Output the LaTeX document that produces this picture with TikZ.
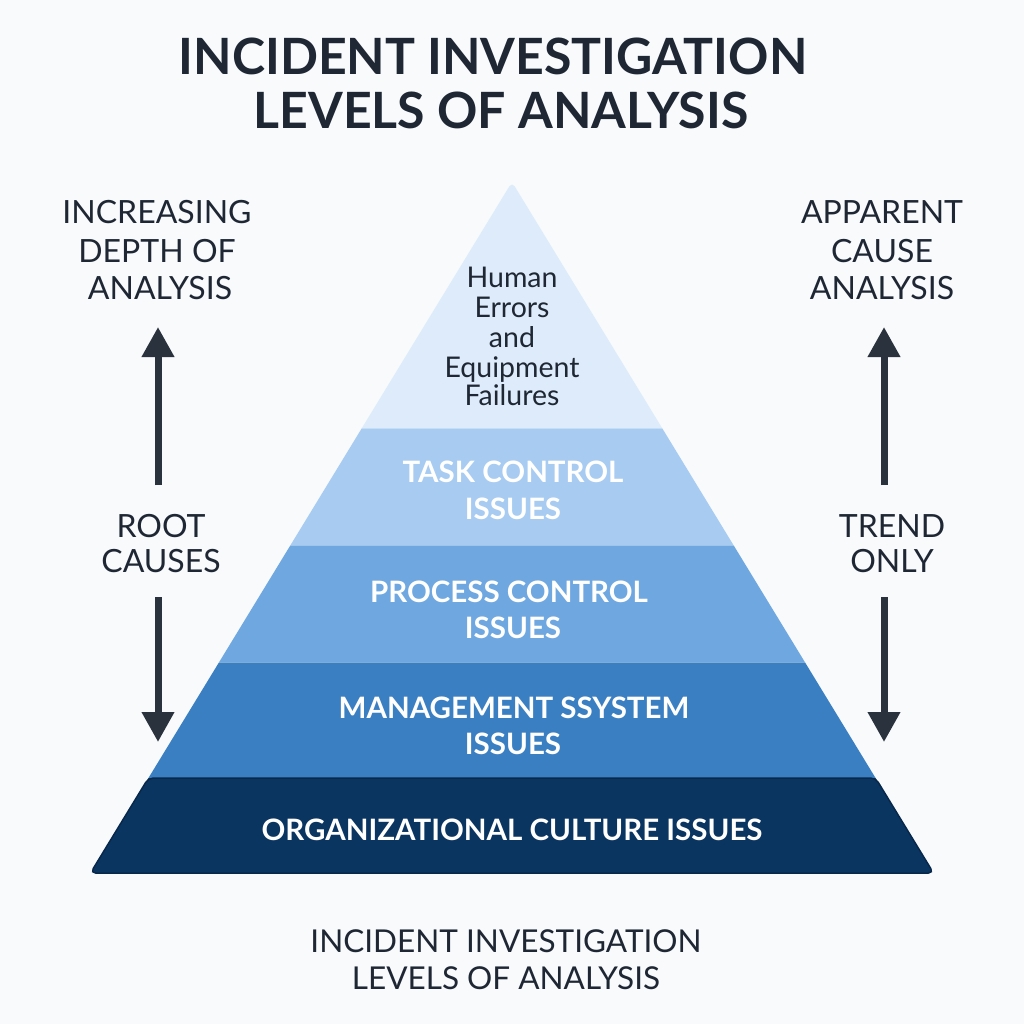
\documentclass[tikz,border=0pt]{standalone}
\usepackage{fontspec}
\setmainfont{Lato}
\usetikzlibrary{arrows.meta}
\definecolor{bgc}{HTML}{F8FAFC}
\definecolor{ink}{HTML}{1E2733}
\definecolor{bandA}{HTML}{DDEBFA}
\definecolor{bandB}{HTML}{A7CBF1}
\definecolor{bandC}{HTML}{6FA7E0}
\definecolor{bandD}{HTML}{3B7FC3}
\definecolor{bandE}{HTML}{0B3561}
\definecolor{bandEdge}{HTML}{08284B}
\definecolor{arrc}{HTML}{2A323D}
\tikzset{
  titletxt/.style={anchor=base, text=ink, font=\fontsize{50}{53}\selectfont\bfseries, inner sep=0},
  sidetxt/.style={anchor=base, text=ink, font=\fontsize{32}{36}\selectfont, inner sep=0},
  toptxt/.style={anchor=base, text=ink, font=\fontsize{28.5}{30}\selectfont, inner sep=0},
  bandtxt/.style={anchor=base, text=white, font=\fontsize{29.5}{33}\selectfont\bfseries, inner sep=0},
  bottxt/.style={anchor=base, text=ink, font=\fontsize{31.5}{35}\selectfont, inner sep=0},
  bigarrow/.style={draw=arrc, line width=7pt, -{Triangle[width=31pt,length=30pt]}}
}
\begin{document}
\begin{tikzpicture}[x=1pt,y=-1pt]
\useasboundingbox (0,0) rectangle (1024,1024);
\fill[bgc] (0,0) rectangle (1024,1024);

% title
\node[titletxt] (t1) at (493,75) {INCIDENT INVESTIGATION};
\node[titletxt] (t2) at (501,129) {LEVELS OF ANALYSIS};

% pyramid
\begin{scope}
\clip[rounded corners=5pt] (512,182) -- (933.5,873) -- (90.5,873) -- cycle;
\fill[bandA] (0,150) rectangle (1024,428);
\fill[bandB] (0,428) rectangle (1024,545);
\fill[bandC] (0,545) rectangle (1024,662);
\fill[bandD] (0,662) rectangle (1024,778);
\fill[bandE] (0,778) rectangle (1024,880);
\draw[white, opacity=0.35, line width=1pt] (0,428) -- (1024,428) (0,545) -- (1024,545) (0,662) -- (1024,662);
\end{scope}
\draw[bandEdge, line width=1.5pt, rounded corners=5pt] (148.4,778) -- (875.6,778) -- (933.5,873) -- (90.5,873) -- cycle;

% top band text
\node[toptxt] (h1) at (512,287) {Human};
\node[toptxt] (h2) at (512,317) {Errors};
\node[toptxt] (h3) at (512,347) {and};
\node[toptxt] (h4) at (512,377) {Equipment};
\node[toptxt] (h5) at (512,405) {Failures};

\node[bandtxt] (b1a) at (513,482) {TASK CONTROL};
\node[bandtxt] (b1b) at (513,519) {ISSUES};
\node[bandtxt] (b2a) at (509,602) {PROCESS CONTROL};
\node[bandtxt] (b2b) at (513,638) {ISSUES};
\node[bandtxt] (b3a) at (514,718) {MANAGEMENT SSYSTEM};
\node[bandtxt] (b3b) at (513,754) {ISSUES};
\node[bandtxt] (b4) at (512,840) {ORGANIZATIONAL CULTURE ISSUES};

% side labels
\node[sidetxt] (l1) at (157,224) {INCREASING};
\node[sidetxt] (l2) at (157,262) {DEPTH OF};
\node[sidetxt] (l3) at (160,299) {ANALYSIS};
\node[sidetxt] (l4) at (161,537) {ROOT};
\node[sidetxt] (l5) at (161,572) {CAUSES};

\node[sidetxt] (r1) at (882,224) {APPARENT};
\node[sidetxt] (r2) at (882,262) {CAUSE};
\node[sidetxt] (r3) at (882,299) {ANALYSIS};
\node[sidetxt] (r4) at (892,537) {TREND};
\node[sidetxt] (r5) at (892,572) {ONLY};

% arrows
\coordinate (lu0) at (158,485);
\coordinate (lu1) at (158,327);
\coordinate (ld0) at (158,597);
\coordinate (ld1) at (158,742);
\coordinate (ru0) at (884,485);
\coordinate (ru1) at (884,327);
\coordinate (rd0) at (884,597);
\coordinate (rd1) at (884,742);
\draw[bigarrow] (lu0) -- (lu1);
\draw[bigarrow] (ld0) -- (ld1);
\draw[bigarrow] (ru0) -- (ru1);
\draw[bigarrow] (rd0) -- (rd1);

% bottom caption
\node[bottxt] (c1) at (506,952) {INCIDENT INVESTIGATION};
\node[bottxt] (c2) at (506,989) {LEVELS OF ANALYSIS};
\end{tikzpicture}
\end{document}
